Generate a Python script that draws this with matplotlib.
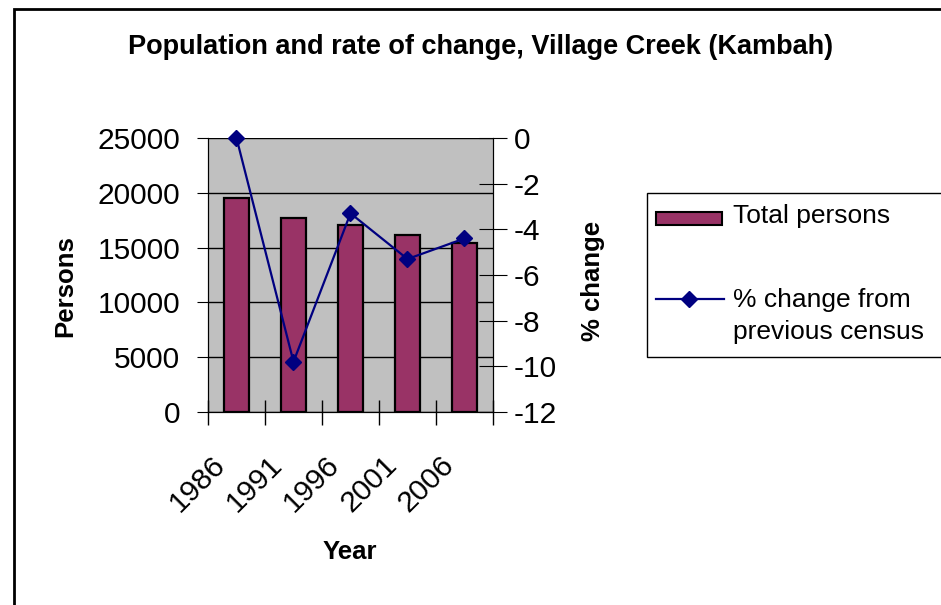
import numpy as np
import matplotlib.pyplot as plt
from matplotlib.patches import Rectangle
from matplotlib.lines import Line2D
from matplotlib.transforms import ScaledTranslation

plt.rcParams['font.family'] = ['Liberation Sans', 'DejaVu Sans']
plt.rcParams['axes.unicode_minus'] = False

# data
years = ['1986', '1991', '1996', '2001', '2006']
persons = [19550, 17730, 17060, 16150, 15450]
pct_change = [0.0, -9.8, -3.3, -5.3, -4.4]

bar_col = '#993366'
line_col = '#000080'

fig = plt.figure(figsize=(9.41, 6.05), dpi=100)
ax = fig.add_axes([208/941, 1 - 412/605, 285/941, 274/605])
ax.set_facecolor('#C0C0C0')

x = np.arange(len(years))
ax.bar(x, persons, width=0.44, color=bar_col, edgecolor='black', linewidth=1.6, zorder=3)
ax.set_xlim(-0.5, len(years) - 0.5)
ax.set_ylim(0, 25000)
ax.set_yticks(np.arange(0, 25001, 5000))
ax.yaxis.grid(True, color='black', linewidth=1, zorder=1)
ax.set_axisbelow(True)

ax.set_xticks(x)
ax.set_xticklabels(years, rotation=45, ha='right', va='top', rotation_mode='anchor')
ax.set_xticks(np.arange(-0.5, len(years)), minor=True)
ax.tick_params(axis='x', which='major', length=0, labelsize=21.5, pad=28)
ax.tick_params(axis='x', which='minor', length=18, direction='inout', width=1)
ax.tick_params(axis='y', length=8, direction='out', labelsize=21.5, pad=12)
shift = ScaledTranslation(-25/100, 0, fig.dpi_scale_trans)
for lab in ax.get_xticklabels():
    lab.set_transform(lab.get_transform() + shift)

ax.spines['top'].set_visible(False)
ax.spines['left'].set_color('black')
ax.spines['bottom'].set_color('black')

ax2 = ax.twinx()
ax2.plot(x, pct_change, color=line_col, linewidth=1.6, marker='D', markersize=8,
         clip_on=False, zorder=5)
ax2.set_ylim(-12, 0)
ax2.set_yticks(np.arange(-12, 1, 2))
ax2.tick_params(axis='y', length=20, direction='inout', labelsize=21.5, pad=5)
ax2.spines['top'].set_visible(False)
ax2.spines['right'].set_color('black')

# axis titles and chart title
ax.text(-0.502, 0.46, 'Persons', transform=ax.transAxes, rotation=90,
        ha='center', va='center', fontsize=18.5, fontweight='bold')
ax.text(1.352, 0.478, '% change', transform=ax.transAxes, rotation=90,
        ha='center', va='center', fontsize=18.5, fontweight='bold')
ax.text(0.498, -0.511, 'Year', transform=ax.transAxes,
        ha='center', va='center', fontsize=18.5, fontweight='bold')
fig.text(481/941, 1 - 47/605, 'Population and rate of change, Village Creek (Kambah)',
         ha='center', va='center', fontsize=19.5, fontweight='bold')

# outer chart border
fig.patches.append(Rectangle((14/941, -0.05), 1.0, 1 - 9/605 + 0.05,
                             transform=fig.transFigure, fill=False,
                             edgecolor='black', linewidth=2))

# legend drawn by hand to mimic the spreadsheet layout
fig.patches.append(Rectangle((647/941, 1 - 357/605), 300/941, 164/605,
                             transform=fig.transFigure, facecolor='white',
                             edgecolor='black', linewidth=1))
fig.patches.append(Rectangle((656/941, 1 - 225/605), 66/941, 13/605,
                             transform=fig.transFigure, facecolor=bar_col,
                             edgecolor='black', linewidth=1.5))
fig.text(733/941, 1 - 216/605, 'Total persons', ha='left', va='center', fontsize=19)
fig.lines.append(Line2D([656/941, 724/941], [1 - 299/605, 1 - 299/605],
                        transform=fig.transFigure, color=line_col, linewidth=1.6))
fig.lines.append(Line2D([689/941], [1 - 299/605], transform=fig.transFigure,
                        color=line_col, marker='D', markersize=8))
fig.text(733/941, 1 - 316/605, '% change from\nprevious census', ha='left',
         va='center', fontsize=19, linespacing=1.45)

fig.savefig('out.png', dpi=100)
